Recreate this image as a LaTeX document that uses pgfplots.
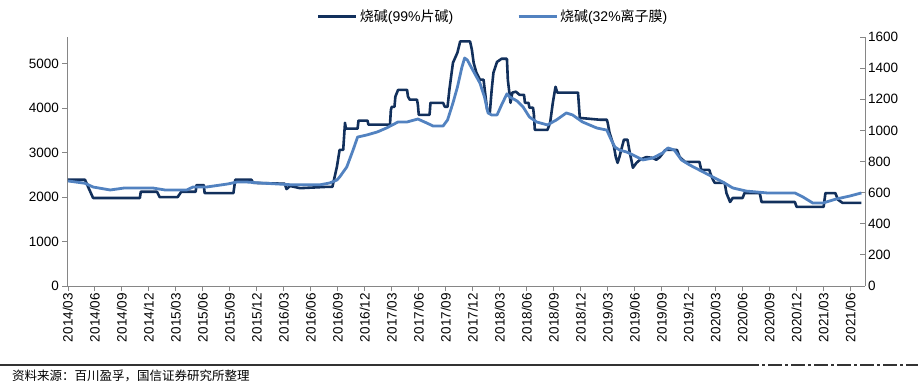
\documentclass[border=0pt]{standalone}
\usepackage{pgfplots}
\pgfplotsset{compat=1.18}
\usepackage{fontspec}
\setmainfont{Liberation Sans}
\newfontfamily\cjk{Noto Sans CJK SC}
\definecolor{darkc}{RGB}{18,48,92}
\definecolor{lightc}{RGB}{82,130,192}
\definecolor{axc}{RGB}{134,134,134}
\begin{document}
\begin{tikzpicture}[x=1pt,y=1pt]
\path[use as bounding box] (0,0) rectangle (918,386);
\pgfplotsset{
  common/.style={
    at={(67pt,100pt)}, anchor=south west, scale only axis,
    width=798pt, height=249pt, xmin=-0.1, xmax=88.6,
    axis line style={axc, line width=0.8pt, -},
    major tick style={axc, line width=0.8pt},
    major tick length=5pt,
    /pgf/number format/assume math mode=true,
    /pgf/number format/1000 sep={},
    ticklabel style={font=\fontsize{13.5}{16}\selectfont, text=black},
  }
}
\begin{axis}[common,
  ymin=0, ymax=5600,
  axis x line*=bottom, axis y line*=left,
  tick align=outside,
  ytick={0,1000,...,5000},
  xtick={0,3,...,87},
  xticklabels={2014/03,2014/06,2014/09,2014/12,2015/03,2015/06,2015/09,2015/12,2016/03,2016/06,2016/09,2016/12,2017/03,2017/06,2017/09,2017/12,2018/03,2018/06,2018/09,2018/12,2019/03,2019/06,2019/09,2019/12,2020/03,2020/06,2020/09,2020/12,2021/03,2021/06},
  xticklabel style={rotate=90, anchor=east, inner sep=2pt},
  yticklabel style={inner sep=3pt},
]
\addplot[darkc, line width=2.6pt, line join=round] coordinates {
(0,2390)(1.9,2390)(2.2,2250)(2.8,1980)(8.0,1980)(8.1,2120)(9.9,2120)(10.2,2000)(12.2,2000)(12.6,2120)(14.2,2120)(14.3,2270)(15.1,2270)(15.2,2090)(18.4,2090)(18.6,2390)(20.4,2390)(20.6,2320)(24.1,2300)(24.3,2180)(24.7,2250)(25.8,2200)(28.8,2230)(29.4,2230)(29.9,2680)(30.2,3060)(30.6,3060)(30.8,3670)(30.9,3540)(32.2,3540)(32.3,3720)(33.3,3720)(33.4,3630)(35.8,3630)(35.9,3960)(36.0,4030)(36.3,4030)(36.4,4260)(36.7,4410)(37.7,4410)(37.8,4260)(38.0,4190)(38.8,4190)(38.9,4080)(39.0,3850)(40.2,3850)(40.3,4120)(41.7,4120)(41.9,4030)(42.2,4030)(42.4,4410)(42.8,5020)(43.3,5250)(43.6,5500)(44.7,5500)(44.9,5320)(45.1,5020)(45.4,4800)(45.8,4640)(46.2,4640)(46.6,3960)(46.9,3900)(47.1,4400)(47.3,4800)(47.7,5040)(48.2,5110)(48.8,5110)(48.9,4640)(49.2,4120)(49.4,4350)(49.8,4370)(50.2,4300)(50.7,4300)(50.8,4120)(51.2,4120)(51.3,4010)(51.7,4010)(51.8,3850)(51.9,3510)(53.3,3510)(53.6,3670)(53.9,4120)(54.2,4480)(54.4,4350)(56.7,4350)(56.9,3780)(59.1,3740)(59.9,3740)(60.0,3670)(60.2,3450)(60.7,3130)(60.9,2900)(61.1,2770)(61.3,2900)(61.8,3290)(62.2,3290)(62.4,3060)(62.8,2660)(63.2,2770)(63.6,2840)(64.3,2900)(65.0,2880)(65.4,2840)(65.8,2900)(66.4,3060)(67.7,3060)(68.0,2900)(68.6,2790)(70.2,2790)(70.4,2610)(71.3,2610)(71.4,2540)(71.7,2390)(71.9,2320)(73.0,2320)(73.2,2090)(73.6,1890)(73.9,1980)(75.0,1980)(75.2,2090)(76.9,2090)(77.1,1890)(80.8,1890)(81.0,1780)(84.0,1780)(84.2,2090)(85.3,2090)(85.6,1940)(86.1,1870)(88.2,1870)
};
\end{axis}
\begin{axis}[common,
  ymin=0, ymax=1600,
  axis x line=none, axis y line*=right,
  tick align=inside,
  ytick={0,200,...,1600},
  yticklabel style={anchor=west, inner sep=3pt},
  legend columns=2,
  legend style={at={(0.534,1.082)}, anchor=center, draw=none, fill=none,
    font=\fontsize{14}{17}\selectfont,
    /tikz/every even column/.append style={column sep=62pt},
    inner sep=0pt},
  legend image code/.code={\draw[#1] (0pt,0pt) -- (38pt,0pt);},
]
\addlegendimage{darkc, line width=3pt}
\addlegendentry{{\cjk 烧碱}(99\%{\cjk 片碱})}
\addplot[lightc, line width=2.8pt, line join=round] coordinates {
(0,675)(1.9,660)(2.8,636)(4.7,617)(6.3,630)(9.4,630)(10.8,617)(13.2,617)(13.9,636)(15.4,636)(17.7,655)(18.8,668)(19.9,668)(21.3,662)(25.0,650)(28.0,650)(29.1,662)(29.9,681)(30.2,700)(31.0,765)(31.7,874)(32.2,957)(33.2,970)(34.4,990)(35.4,1015)(36.7,1054)(37.7,1054)(38.9,1073)(39.9,1047)(40.6,1028)(41.7,1028)(42.2,1067)(42.8,1176)(43.3,1279)(43.8,1407)(44.1,1465)(44.4,1452)(45.0,1388)(45.8,1304)(46.3,1215)(46.7,1112)(47.1,1099)(47.7,1099)(48.2,1163)(48.8,1235)(49.1,1215)(49.9,1190)(50.6,1150)(51.3,1086)(52.1,1054)(53.3,1035)(54.3,1067)(55.4,1112)(56.1,1099)(57.2,1054)(58.8,1015)(59.9,1002)(60.4,938)(60.8,893)(61.3,874)(62.1,861)(62.8,842)(63.9,810)(65.0,822)(66.1,855)(66.7,887)(67.4,874)(68.2,810)(69.1,778)(70.2,745)(71.7,700)(72.8,668)(73.9,630)(75.4,610)(77.7,598)(80.8,598)(81.7,572)(82.8,533)(83.9,533)(85.4,559)(86.9,578)(88.2,598)
};
\addlegendentry{{\cjk 烧碱}(32\%{\cjk 离子膜})}
\end{axis}
\draw[black!80, line width=1.2pt] (0,21) -- (745,21);
\draw[black!80, line width=1.2pt, dash pattern=on 14pt off 3pt on 3pt off 3pt] (745,21) -- (918,21);
\node[anchor=west, inner sep=0pt, font=\cjk\fontsize{12.5}{15}\selectfont] at (12,10) {资料来源：百川盈孚，国信证券研究所整理};
\end{tikzpicture}
\end{document}
